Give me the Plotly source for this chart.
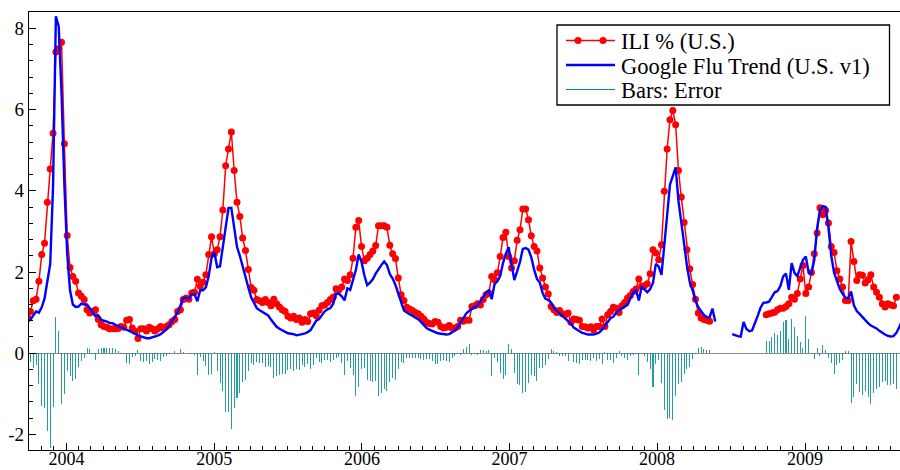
import plotly.graph_objects as go
import pandas as pd

# ---------------- data (weekly) ----------------
start_week = "2003-09-27"

ili = [
    0.89, 1.03, 1.29, 1.33, 1.77, 2.43, 2.71, 3.72, 4.54, 5.42,
    7.42, 7.50, 7.66, 5.16, 2.90, 2.11, 1.89, 1.77, 1.48, 1.40,
    1.32, 1.07, 0.99, 1.03, 1.07, 0.83, 0.70, 0.66, 0.64, 0.60,
    0.60, 0.60, 0.61, 0.66, 0.64, 0.81, 0.83, 0.62, 0.54, 0.36,
    0.60, 0.60, 0.55, 0.64, 0.60, 0.55, 0.60, 0.66, 0.62, 0.66,
    0.70, 0.78, 0.83, 1.03, 1.07, 1.32, 1.36, 1.33, 1.48, 1.50,
    1.82, 1.65, 1.75, 1.93, 2.43, 2.87, 2.45, 2.55, 2.87, 3.53,
    4.62, 5.03, 5.45, 4.50, 3.72, 3.37, 2.84, 2.53, 2.06, 1.62,
    1.55, 1.32, 1.29, 1.25, 1.32, 1.25, 1.17, 1.33, 1.22, 1.14,
    1.07, 1.03, 0.91, 0.87, 0.91, 0.83, 0.87, 0.76, 0.83, 0.78,
    0.97, 0.99, 0.92, 1.06, 1.17, 1.19, 1.25, 1.32, 1.38, 1.59,
    1.56, 1.63, 1.83, 1.79, 1.93, 2.34, 3.10, 3.27, 2.63, 2.28,
    2.34, 2.43, 2.52, 2.65, 3.14, 3.14, 3.14, 3.10, 2.66, 2.45,
    2.33, 1.85, 1.44, 1.30, 1.13, 1.09, 1.05, 1.00, 0.97, 0.91,
    0.84, 0.76, 0.73, 0.72, 0.78, 0.76, 0.66, 0.62, 0.64, 0.68,
    0.62, 0.62, 0.66, 0.81, 0.79, 0.82, 0.81, 1.15, 1.17, 1.22,
    1.19, 1.32, 1.44, 1.48, 1.89, 1.81, 1.98, 2.38, 2.85, 2.98,
    2.38, 2.10, 2.28, 2.78, 3.04, 3.55, 3.55, 3.29, 2.89, 2.63,
    2.52, 2.10, 1.85, 1.63, 1.46, 1.15, 1.07, 1.00, 1.05, 0.97,
    0.95, 0.99, 0.76, 0.84, 0.83, 0.81, 0.66, 0.65, 0.62, 0.65,
    0.58, 0.66, 0.66, 0.84, 0.66, 0.95, 1.03, 1.13, 1.11, 1.00,
    1.17, 1.25, 1.36, 1.42, 1.52, 1.58, 1.83, 1.65, 1.66, 1.71,
    1.96, 2.55, 2.47, 2.30, 2.67, 3.99, 5.03, 5.75, 5.98, 5.63,
    4.50, 3.85, 3.22, 2.55, 2.08, 1.69, 1.33, 0.99, 0.87, 0.83,
    0.81, 0.79,
    None, None, None, None, None, None, None, None, None, None,
    None, None, None, None, None, None, None, None, None,
    0.95, 0.97, 0.99, 1.01, 1.07, 1.11, 1.11, 1.15, 1.22, 1.38,
    1.33, 1.47, 1.83, 2.16, 1.47, 1.63, 1.99, 2.45, 2.96, 3.58,
    3.41, 3.52, 3.21, 2.63, 2.48, 2.03, 1.83, 1.63, 1.30, 1.30,
    2.75, 2.26, 1.79, 1.93, 1.92, 1.73, 1.81, 1.93, 1.63, 1.50,
    1.38, 1.22, 1.14, 1.22, 1.19, 1.17, 1.38,
    None, None,
]

gft = [
    0.78, 0.82, 0.93, 1.03, 1.00, 1.13, 1.35, 1.80, 2.20, 4.10,
    8.30, 8.05, 6.40, 4.15, 2.45, 1.55, 1.20, 1.14, 1.15, 1.22,
    1.20, 1.20, 1.10, 1.00, 0.91, 0.93, 0.82, 0.80, 0.78, 0.74,
    0.74, 0.70, 0.66, 0.64, 0.61, 0.58, 0.56, 0.52, 0.48, 0.44,
    0.42, 0.39, 0.37, 0.37, 0.39, 0.41, 0.43, 0.47, 0.52, 0.58,
    0.68, 0.78, 0.88, 1.00, 1.17, 1.36, 1.37, 1.34, 1.46, 1.45,
    1.28, 1.55, 1.55, 1.62, 1.90, 2.35, 2.48, 2.12, 2.14, 2.60,
    3.18, 3.58, 3.58, 3.15, 2.62, 2.40, 2.12, 1.86, 1.62, 1.38,
    1.25, 1.11, 1.06, 1.02, 0.99, 0.93, 0.83, 0.73, 0.65, 0.60,
    0.56, 0.52, 0.49, 0.48, 0.47, 0.44, 0.45, 0.47, 0.49, 0.52,
    0.57, 0.70, 0.80, 0.84, 0.94, 1.03, 1.08, 1.11, 1.22, 1.46,
    1.47, 1.40, 1.30, 1.60, 1.56, 1.80, 2.05, 2.43, 2.25, 1.92,
    1.68, 1.74, 1.82, 1.96, 2.08, 2.17, 2.26, 2.17, 1.95, 1.84,
    1.68, 1.45, 1.22, 1.05, 1.00, 0.96, 0.92, 0.89, 0.84, 0.77,
    0.68, 0.62, 0.58, 0.54, 0.52, 0.49, 0.48, 0.46, 0.46, 0.47,
    0.51, 0.56, 0.64, 0.76, 0.89, 0.98, 1.04, 1.10, 1.14, 1.17,
    1.27, 1.40, 1.49, 1.55, 1.33, 1.70, 1.77, 1.90, 2.22, 2.45,
    2.61, 2.20, 1.80, 2.02, 2.25, 2.57, 2.59, 2.55, 2.36, 2.06,
    1.83, 1.74, 1.48, 1.34, 1.31, 1.25, 1.12, 1.04, 0.98, 0.91,
    0.87, 0.80, 0.73, 0.63, 0.58, 0.54, 0.50, 0.48, 0.46, 0.46,
    0.46, 0.48, 0.51, 0.58, 0.68, 0.78, 0.86, 0.90, 1.00, 1.06,
    1.10, 1.14, 1.19, 1.35, 1.48, 1.56, 1.30, 1.64, 1.58, 1.50,
    1.58, 1.73, 2.20, 2.14, 1.93, 2.60, 3.40, 4.15, 4.34, 4.58,
    3.75, 3.15, 2.70, 2.15, 1.75, 1.55, 1.30, 1.13, 1.03, 0.94,
    0.89, 0.88, 1.10, 0.78,
    None, None, None, None, None,
    0.47, 0.44, 0.42, 0.41, 0.77, 0.60, 0.54, 0.56, 0.72, 0.92,
    1.12, 1.24, 1.25, 1.27, 1.38, 1.50, 1.53, 1.65, 1.89, 1.96,
    1.56, 2.22, 1.98, 1.90, 2.10, 2.30, 2.38, 1.98, 1.96, 2.30,
    3.08, 3.52, 3.62, 3.60, 3.10, 2.40, 1.98, 1.75, 1.58, 1.47,
    1.36, 1.36, 1.52, 1.18, 1.04, 0.97, 0.89, 0.80, 0.74, 0.68,
    0.65, 0.61, 0.55, 0.50, 0.46, 0.43, 0.41, 0.42, 0.50, 0.64,
    0.80,
]

year_ticks = ["2004", "2005", "2006", "2007", "2008", "2009"]
y_ticks = [-2, 0, 2, 4, 6, 8]

legend_labels = ["ILI % (U.S.)", "Google Flu Trend (U.S. v1)", "Bars: Error"]

# ---------------- derived ----------------
weeks = pd.date_range(start_week, periods=len(gft), freq="7D")
error = [(g - i) if (g is not None and i is not None) else None
         for g, i in zip(gft, ili)]

RED = "#ff0000"
BLUE = "#0000ff"
TEAL = "rgba(0,139,139,0.85)"
FONT = "Liberation Serif"

fig = go.Figure()

fig.add_trace(go.Bar(
    x=weeks, y=error, width=2.5 * 86400000,
    marker=dict(color=TEAL, line=dict(width=0)),
    showlegend=False,
))
fig.add_trace(go.Scatter(
    x=weeks, y=ili, mode="lines+markers",
    line=dict(color=RED, width=1.5),
    marker=dict(color=RED, size=7, symbol="circle"),
    connectgaps=False, showlegend=False,
))
fig.add_trace(go.Scatter(
    x=weeks, y=gft, mode="lines",
    line=dict(color=BLUE, width=2.4),
    connectgaps=False, showlegend=False,
))

W, H = 900, 470
ML, MR, MT, MB = 29, 0, 12, 20
PW, PH = W - ML - MR, H - MT - MB


def px(xpix):
    return (xpix - ML) / PW


def py(ypix):
    return (H - MB - ypix) / PH


# custom legend (box, samples, texts)
row_y = [40.5, 65.0, 89.5]
shapes = [dict(type="rect", xref="paper", yref="paper",
               x0=px(557), x1=px(889.5), y0=py(105), y1=py(25),
               line=dict(color="black", width=1.3), fillcolor="white",
               layer="above")]
sample_x0, sample_x1 = 566, 615
sample_styles = [dict(color=RED, width=1.5), dict(color=BLUE, width=2.4),
                 dict(color="rgb(0,139,139)", width=1)]
for yy, st in zip(row_y, sample_styles):
    shapes.append(dict(type="line", xref="paper", yref="paper",
                       x0=px(sample_x0), x1=px(sample_x1), y0=py(yy), y1=py(yy),
                       line=st, layer="above"))
for cx in (578, 603):
    shapes.append(dict(type="circle", xref="paper", yref="paper",
                       xsizemode="pixel", ysizemode="pixel",
                       xanchor=px(cx), yanchor=py(row_y[0]),
                       x0=-3.5, x1=3.5, y0=-3.5, y1=3.5,
                       fillcolor=RED, line=dict(color=RED, width=0),
                       layer="above"))

annotations = []
for yy, lab in zip(row_y, legend_labels):
    annotations.append(dict(xref="paper", yref="paper", x=px(620), y=py(yy + 1),
                            text=lab, showarrow=False, xanchor="left",
                            yanchor="middle", borderpad=0,
                            font=dict(family=FONT, size=22.5, color="black")))

fig.update_layout(
    width=W, height=H,
    margin=dict(l=ML, r=MR, t=MT, b=MB, pad=0, autoexpand=False),
    paper_bgcolor="white", plot_bgcolor="white",
    bargap=0, showlegend=False,
    font=dict(family=FONT, size=19, color="black"),
    shapes=shapes, annotations=annotations,
    xaxis=dict(
        type="date", automargin=False,
        range=["2003-09-30 12:00", "2009-08-24"],
        tickmode="array",
        tickvals=[f"{y}-01-01" for y in year_ticks],
        ticktext=year_ticks,
        ticks="inside", ticklen=7, tickwidth=1, tickcolor="black",
        ticklabelstandoff=-8,
        minor=dict(ticks="inside", dtick="M1", tick0="2004-01-01",
                   ticklen=4, tickwidth=1, tickcolor="black", showgrid=False),
        showline=True, linecolor="black", linewidth=1.3, mirror=True,
        showgrid=False, zeroline=False,
        tickfont=dict(family=FONT, size=18, color="black"),
    ),
    yaxis=dict(
        automargin=False,
        range=[-2.384, 8.404],
        tickmode="array",
        tickvals=y_ticks,
        ticktext=[str(v) for v in y_ticks],
        ticks="inside", ticklen=7, tickwidth=1, tickcolor="black",
        minor=dict(ticks="inside", dtick=0.4, tick0=0,
                   ticklen=4, tickwidth=1, tickcolor="black", showgrid=False),
        showline=True, linecolor="black", linewidth=1.3,
        showgrid=False,
        zeroline=True, zerolinecolor="#8a8a8a", zerolinewidth=1,
        tickfont=dict(family=FONT, size=19, color="black"),
    ),
)

fig.write_html("out.html")
